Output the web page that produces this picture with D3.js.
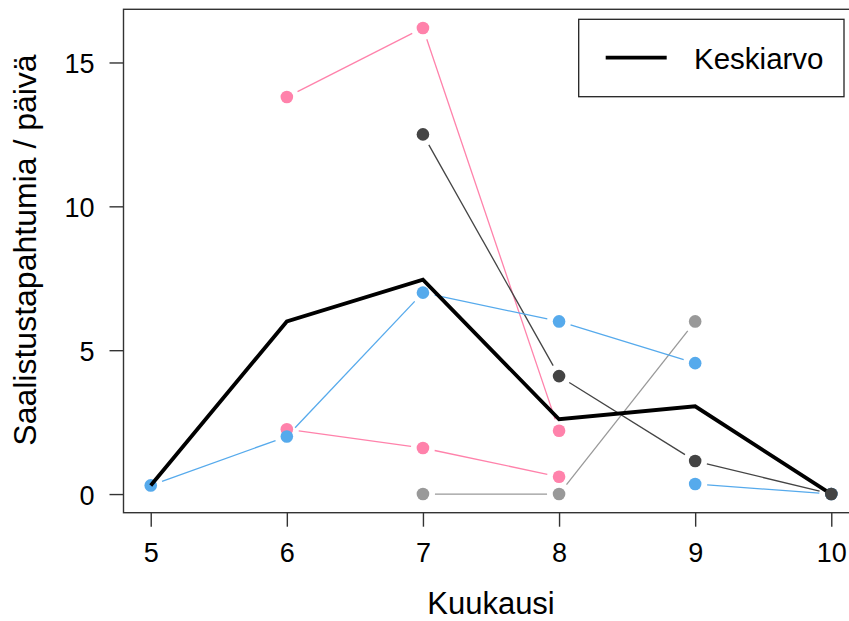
<!DOCTYPE html>
<html>
<head>
<meta charset="utf-8">
<script src="https://cdn.jsdelivr.net/npm/d3@7"></script>
<style>
  body { margin: 0; background: #fff; }
  svg { display: block; font-family: "Liberation Sans", Arial, sans-serif; }
</style>
</head>
<body>
<svg id="chart" width="849" height="621"></svg>
<script>
// ---- data ----
const months = [5, 6, 7, 8, 9, 10];
const yTicks = [0, 5, 10, 15];
const pink1Months = [6, 7, 8];
const pink1Values = [13.8, 16.2, 2.2];
const pink2Months = [6, 7, 8];
const pink2Values = [2.25, 1.6, 0.6];
const blue1Months = [5, 6, 7, 8, 9];
const blue1Values = [0.3, 2.0, 7.0, 6.0, 4.55];
const blue2Months = [9, 10];
const blue2Values = [0.35, 0];
const lightMonths = [7, 8, 9];
const lightValues = [0, 0, 6.0];
const darkMonths = [7, 8, 9, 10];
const darkValues = [12.5, 4.1, 1.15, 0];
const meanMonths = [5, 6, 7, 8, 9, 10];
const meanValues = [0.3, 6.0, 7.45, 2.6, 3.05, 0];
const xTitle = "Kuukausi";
const yTitle = "Saalistustapahtumia / päivä";
const legendLabel = "Keskiarvo";

const series = [
  { m: pink1Months, v: pink1Values, color: "#FF82AB" },
  { m: pink2Months, v: pink2Values, color: "#FF82AB" },
  { m: lightMonths, v: lightValues, color: "#999999" },
  { m: darkMonths,  v: darkValues,  color: "#444444" },
  { m: blue1Months, v: blue1Values, color: "#56AAEC" },
  { m: blue2Months, v: blue2Values, color: "#56AAEC" }
];

// ---- layout ----
const svg = d3.select("#chart");
const x = d3.scaleLinear().domain([4.8, 10.2]).range([123.5, 858.5]);
const y = d3.scaleLinear().domain([-0.648, 16.848]).range([512.7, 9.3]);
const axisColor = "#333";
const tickFont = 27;

// box
svg.append("rect")
  .attr("x", x.range()[0]).attr("y", y.range()[1])
  .attr("width", x.range()[1] - x.range()[0])
  .attr("height", y.range()[0] - y.range()[1])
  .attr("fill", "none").attr("stroke", axisColor).attr("stroke-width", 1.4);

// x axis
const xAxis = d3.axisBottom(x).tickValues(months).tickSize(14).tickPadding(14).tickFormat(d3.format("d"));
const gx = svg.append("g").attr("transform", `translate(0,${y.range()[0]})`).call(xAxis);
gx.select(".domain").remove();
gx.selectAll(".tick line").attr("stroke", axisColor).attr("stroke-width", 1.4);
gx.selectAll(".tick text").attr("font-size", tickFont).attr("fill", "#000")
  .attr("font-family", "Liberation Sans, Arial, sans-serif")
  .attr("dy", null).attr("y", 49.5);

// y axis
const yAxis = d3.axisLeft(y).tickValues(yTicks).tickSize(14).tickPadding(14).tickFormat(d3.format("d"));
const gy = svg.append("g").attr("transform", `translate(${x.range()[0]},0)`).call(yAxis);
gy.select(".domain").remove();
gy.selectAll(".tick line").attr("stroke", axisColor).attr("stroke-width", 1.4);
gy.selectAll(".tick text").attr("font-size", tickFont).attr("fill", "#000")
  .attr("font-family", "Liberation Sans, Arial, sans-serif")
  .attr("dy", null).attr("x", -29).attr("y", 10.5);

// titles
svg.append("text").attr("x", 491).attr("y", 614)
  .attr("text-anchor", "middle").attr("font-size", 31).text(xTitle);
svg.append("text")
  .attr("transform", "translate(36,250) rotate(-90)")
  .attr("text-anchor", "middle").attr("font-size", 32).text(yTitle);

// series (type "b": points with gapped segments)
const gap = 12;
function drawSeries(s) {
  const pts = s.m.map((mm, i) => [x(mm), y(s.v[i])]);
  const g = svg.append("g");
  for (let i = 0; i < pts.length - 1; i++) {
    const [x0, y0] = pts[i], [x1, y1] = pts[i + 1];
    const len = Math.hypot(x1 - x0, y1 - y0);
    if (len <= 2 * gap) continue;
    const ux = (x1 - x0) / len, uy = (y1 - y0) / len;
    g.append("line")
      .attr("x1", x0 + ux * gap).attr("y1", y0 + uy * gap)
      .attr("x2", x1 - ux * gap).attr("y2", y1 - uy * gap)
      .attr("stroke", s.color).attr("stroke-width", 1.3);
  }
  g.selectAll("circle").data(pts).join("circle")
    .attr("cx", d => d[0]).attr("cy", d => d[1]).attr("r", 6.3)
    .attr("fill", s.color);
}
series.forEach(drawSeries);

// mean line
const meanLine = d3.line().x(d => x(d[0])).y(d => y(d[1]));
svg.append("path")
  .datum(meanMonths.map((mm, i) => [mm, meanValues[i]]))
  .attr("d", meanLine)
  .attr("fill", "none").attr("stroke", "#000").attr("stroke-width", 3.8)
  .attr("stroke-linejoin", "miter");

// dark point at month 10 drawn on top (as in reference)
svg.append("circle").attr("cx", x(darkMonths[3])).attr("cy", y(darkValues[3]))
  .attr("r", 6.3).attr("fill", "#444444");

// legend
const lg = svg.append("g");
lg.append("rect").attr("x", 578.7).attr("y", 19.3).attr("width", 265.3).attr("height", 77.4)
  .attr("fill", "#fff").attr("stroke", "#222").attr("stroke-width", 1.3);
lg.append("line").attr("x1", 605.7).attr("x2", 666.7).attr("y1", 57.7).attr("y2", 57.7)
  .attr("stroke", "#000").attr("stroke-width", 3.8);
lg.append("text").attr("x", 694).attr("y", 69).attr("font-size", 29.5).text(legendLabel);
</script>
</body>
</html>
